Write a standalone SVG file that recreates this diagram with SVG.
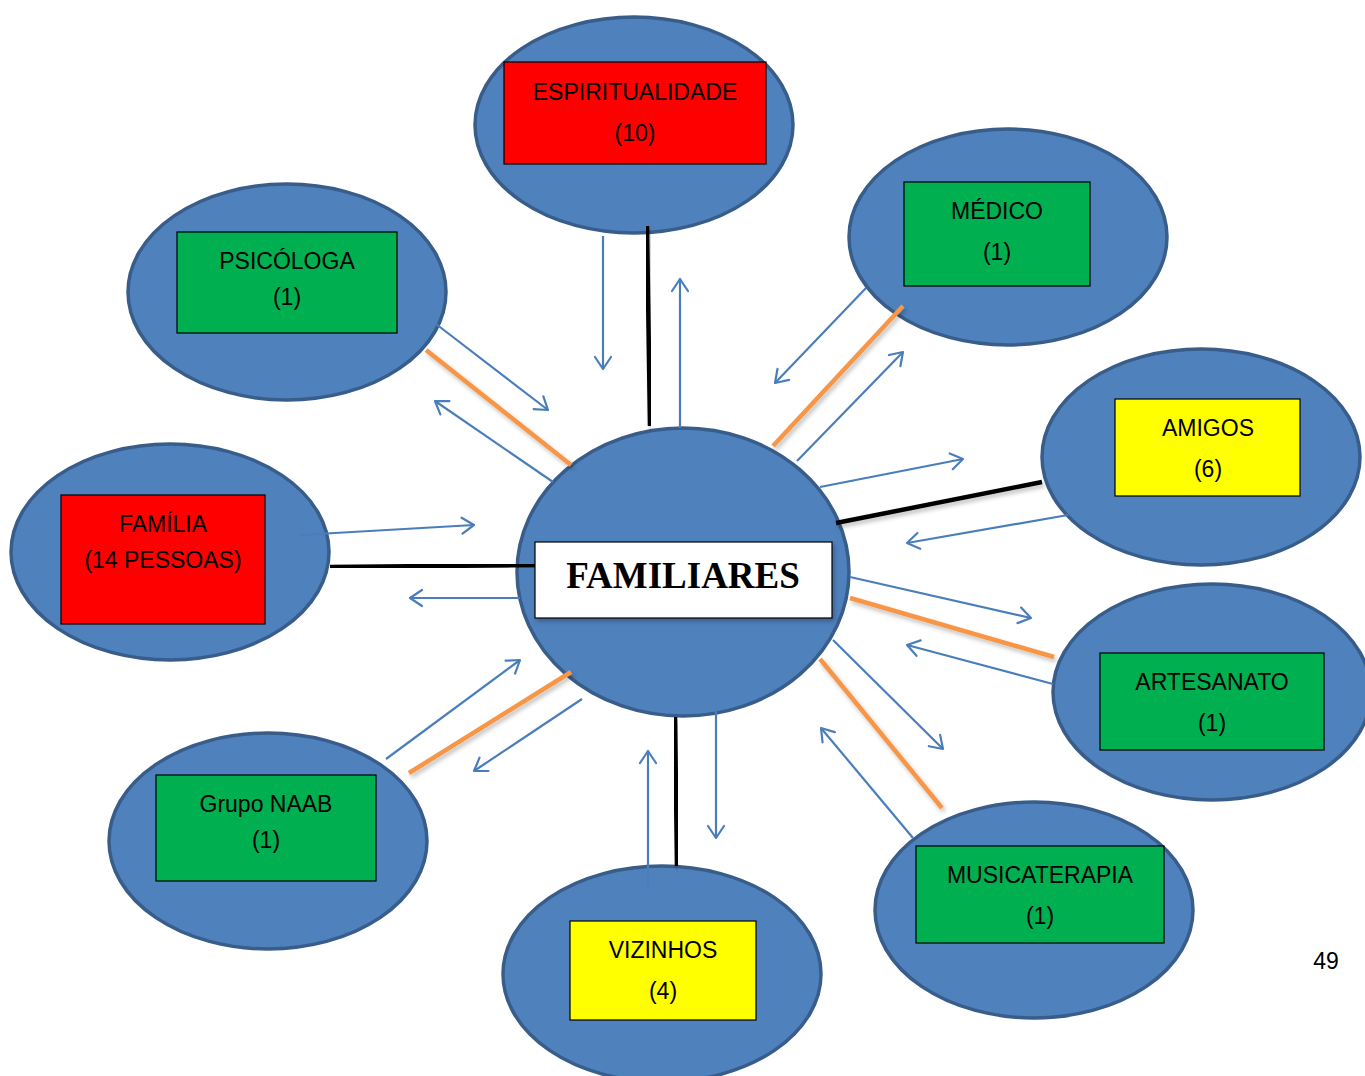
<svg xmlns="http://www.w3.org/2000/svg" width="1365" height="1076" viewBox="0 0 1365 1076">
<defs>
<marker id="ah" markerUnits="userSpaceOnUse" markerWidth="20" markerHeight="20" viewBox="-14 -10 16 20" refX="0" refY="0" orient="auto">
<path d="M-12,-8 L0,0 L-12,8" fill="none" stroke="#4A7EBB" stroke-width="2.2" stroke-linecap="round" stroke-linejoin="round"/>
</marker>
<filter id="sh" x="-20%" y="-20%" width="140%" height="140%">
<feDropShadow dx="2" dy="3" stdDeviation="2" flood-color="#000" flood-opacity="0.25"/>
</filter>
</defs>
<style>
.ell{fill:#4F81BD;stroke:#385D8A;stroke-width:3.5}
.box{stroke:#000;stroke-width:1.2}
.red{fill:#FF0000}
.green{fill:#00B050}
.yellow{fill:#FFFF00}
.lbl{font-family:"Liberation Sans",Arial,sans-serif;font-size:23px;fill:#000;text-anchor:middle}
.arr{stroke:#4A7EBB;stroke-width:2.2;fill:none;marker-end:url(#ah)}
.blk{stroke:#000;stroke-width:4.5;filter:url(#sh)}
.org{stroke:#F79646;stroke-width:4.5;filter:url(#sh)}
</style>
<rect width="1365" height="1076" fill="#fff"/>

<g id="nodes">
<g id="espiritualidade">
<ellipse class="ell" cx="634" cy="125" rx="159" ry="108"/>
<rect class="box red" x="504" y="62" width="262" height="102"/>
<text class="lbl" x="635" y="100">ESPIRITUALIDADE</text>
<text class="lbl" x="635" y="141">(10)</text>
</g>
<g id="psicologa">
<ellipse class="ell" cx="287" cy="292" rx="159" ry="108"/>
<rect class="box green" x="177" y="232" width="220" height="101"/>
<text class="lbl" x="287" y="269">PSICÓLOGA</text>
<text class="lbl" x="287" y="305">(1)</text>
</g>
<g id="medico">
<ellipse class="ell" cx="1008" cy="237" rx="159" ry="108"/>
<rect class="box green" x="904" y="182" width="186" height="104"/>
<text class="lbl" x="997" y="219">MÉDICO</text>
<text class="lbl" x="997" y="260">(1)</text>
</g>
<g id="amigos">
<ellipse class="ell" cx="1201" cy="457" rx="159" ry="108"/>
<rect class="box yellow" x="1115" y="399" width="185" height="97"/>
<text class="lbl" x="1208" y="436">AMIGOS</text>
<text class="lbl" x="1208" y="477">(6)</text>
</g>
<g id="familia">
<ellipse class="ell" cx="170" cy="552" rx="159" ry="108"/>
<rect class="box red" x="61" y="495" width="204" height="129"/>
<text class="lbl" x="163" y="532">FAMÍLIA</text>
<text class="lbl" x="163" y="568">(14 PESSOAS)</text>
</g>
<g id="artesanato">
<ellipse class="ell" cx="1212" cy="692" rx="159" ry="108"/>
<rect class="box green" x="1100" y="653" width="224" height="97"/>
<text class="lbl" x="1212" y="690">ARTESANATO</text>
<text class="lbl" x="1212" y="731">(1)</text>
</g>
<g id="grupo-naab">
<ellipse class="ell" cx="268" cy="841" rx="159" ry="108"/>
<rect class="box green" x="156" y="775" width="220" height="106"/>
<text class="lbl" x="266" y="812">Grupo NAAB</text>
<text class="lbl" x="266" y="848">(1)</text>
</g>
<g id="vizinhos">
<ellipse class="ell" cx="662" cy="974" rx="159" ry="108"/>
<rect class="box yellow" x="570" y="921" width="186" height="99"/>
<text class="lbl" x="663" y="958">VIZINHOS</text>
<text class="lbl" x="663" y="999">(4)</text>
</g>
<g id="musicaterapia">
<ellipse class="ell" cx="1034" cy="910" rx="159" ry="108"/>
<rect class="box green" x="916" y="846" width="248" height="97"/>
<text class="lbl" x="1040" y="883">MUSICATERAPIA</text>
<text class="lbl" x="1040" y="924">(1)</text>
</g>
<g id="familiares">
<ellipse class="ell" cx="683" cy="572" rx="166" ry="144"/>
</g>
</g>

<g id="connectors">
<line class="blk" x1="647" y1="226" x2="650" y2="426"/>
<line class="blk" x1="836" y1="523" x2="1042" y2="482"/>
<line class="blk" x1="330" y1="567" x2="535" y2="565"/>
<line class="blk" x1="675" y1="717" x2="677" y2="866"/>
<line class="org" x1="426" y1="350" x2="571" y2="465"/>
<line class="org" x1="773" y1="446" x2="903" y2="306"/>
<line class="org" x1="850" y1="598" x2="1054" y2="657"/>
<line class="org" x1="820" y1="659" x2="942" y2="808"/>
<line class="org" x1="409" y1="773" x2="571" y2="672"/>
<line class="arr" x1="603" y1="236" x2="603" y2="369"/>
<line class="arr" x1="680" y1="428" x2="680" y2="279"/>
<line class="arr" x1="436" y1="324" x2="548" y2="410"/>
<line class="arr" x1="553" y1="482" x2="435" y2="401"/>
<line class="arr" x1="866" y1="288" x2="775" y2="383"/>
<line class="arr" x1="797" y1="461" x2="903" y2="352"/>
<line class="arr" x1="820" y1="487" x2="963" y2="459"/>
<line class="arr" x1="1068" y1="515" x2="907" y2="543"/>
<line class="arr" x1="300" y1="535" x2="474" y2="525"/>
<line class="arr" x1="520" y1="598" x2="410" y2="598"/>
<line class="arr" x1="850" y1="577" x2="1031" y2="618"/>
<line class="arr" x1="1053" y1="684" x2="907" y2="645"/>
<line class="arr" x1="833" y1="640" x2="943" y2="749"/>
<line class="arr" x1="913" y1="838" x2="821" y2="728"/>
<line class="arr" x1="716" y1="710" x2="716" y2="838"/>
<line class="arr" x1="648" y1="890" x2="648" y2="751"/>
<line class="arr" x1="386" y1="759" x2="520" y2="660"/>
<line class="arr" x1="582" y1="699" x2="474" y2="771"/>
</g>

<g id="familiares-label">
<rect x="535" y="542" width="297" height="76" fill="#fff" stroke="#000" stroke-width="1.2" filter="url(#sh)"/>
<text x="683" y="588" font-family="'Liberation Serif','Times New Roman',serif" font-weight="bold" font-size="37" text-anchor="middle" fill="#000">FAMILIARES</text>
</g>

<text x="1326" y="969" font-family="'Liberation Sans',Arial,sans-serif" font-size="23" text-anchor="middle" fill="#000">49</text>
</svg>
